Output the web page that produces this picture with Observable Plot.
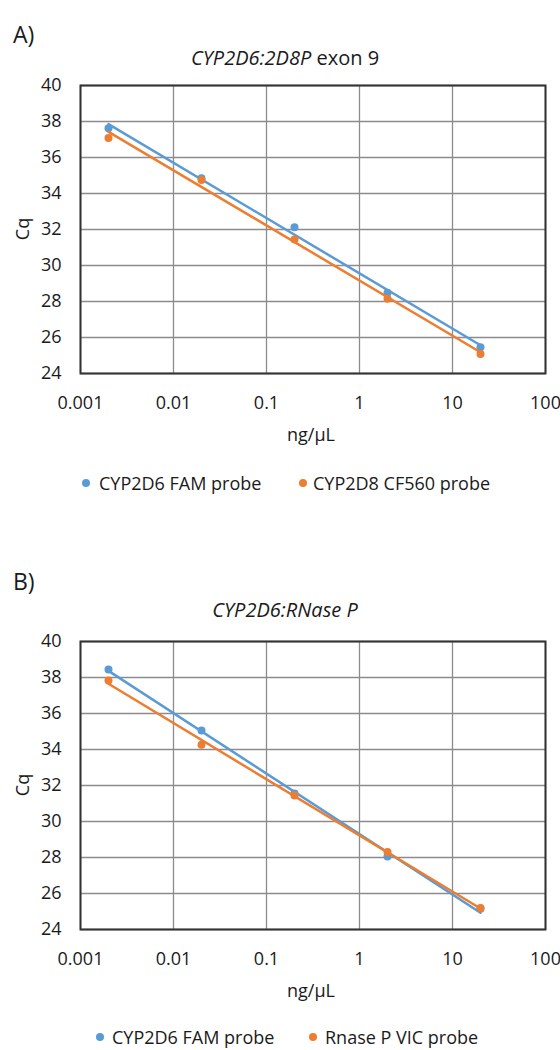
<!DOCTYPE html>
<html>
<head>
<meta charset="utf-8">
<script src="https://cdn.jsdelivr.net/npm/d3@7"></script>
<script src="https://cdn.jsdelivr.net/npm/@observablehq/plot@0.6"></script>
<style>
  body { margin: 0; background: #fff; font-family: "Open Sans", sans-serif; color: #1a1a1a; }
  #page { position: relative; width: 560px; height: 1050px; overflow: hidden; background: #fff; }
  .abs { position: absolute; white-space: nowrap; line-height: 1; }
  .vc { transform: translateY(-50%); }
  .hc { transform: translate(-50%, -50%); }
  .dot { position: absolute; width: 8px; height: 8px; border-radius: 50%; transform: translate(-50%, -50%); }
  svg { position: absolute; left: 0; }
</style>
</head>
<body>
<div id="page"></div>
<script>
// Template DNA concentrations (ng/µL) of the dilution series
const concentrations = [0.002, 0.02, 0.2, 2, 20];

// Axis ticks
const xTicks = [0.001, 0.01, 0.1, 1, 10, 100];
const xTickLabels = ["0.001", "0.01", "0.1", "1", "10", "100"];
const yTicks = [24, 26, 28, 30, 32, 34, 36, 38, 40];

// A) CYP2D6:2D8P exon 9 — Cq values
const cqA_CYP2D6_FAM = [37.63, 34.85, 32.13, 28.48, 25.46];
const cqA_CYP2D8_CF560 = [37.09, 34.75, 31.44, 28.15, 25.08];

// B) CYP2D6:RNase P — Cq values
const cqB_CYP2D6_FAM = [38.44, 35.06, 31.55, 28.05, 25.15];
const cqB_RNaseP_VIC = [37.83, 34.26, 31.45, 28.30, 25.20];

const seriesNamesA = ["CYP2D6 FAM probe", "CYP2D8 CF560 probe"];
const seriesNamesB = ["CYP2D6 FAM probe", "Rnase P VIC probe"];

const BLUE = "#5b9bd5";
const ORANGE = "#ed7d31";
const GRID = "#8c8c8c";
const FRAME = "#333333";
const FONT = '"Open Sans", sans-serif';

const page = document.getElementById("page");

// Least-squares fit of Cq against log10(concentration), evaluated at the data extremes
function logTrend(xs, ys) {
  const lx = xs.map(Math.log10);
  const mx = d3.mean(lx), my = d3.mean(ys);
  let sxy = 0, sxx = 0;
  lx.forEach((v, i) => { sxy += (v - mx) * (ys[i] - my); sxx += (v - mx) ** 2; });
  const slope = sxy / sxx, icpt = my - slope * mx;
  return d3.extent(xs).map(x => ({x, y: icpt + slope * Math.log10(x)}));
}

const rows = ys => concentrations.map((x, i) => ({x, y: ys[i]}));

function addText(html, left, top, cls, style = "") {
  const d = document.createElement("div");
  d.className = "abs " + cls;
  d.style.cssText = `left:${left}px;top:${top}px;${style}`;
  d.innerHTML = html;
  page.appendChild(d);
  return d;
}

function addDot(color, cx, cy) {
  const d = document.createElement("div");
  d.className = "dot";
  d.style.cssText = `left:${cx}px;top:${cy}px;background:${color};`;
  page.appendChild(d);
}

function drawPanel({svgTop, letter, letterY, title, titleY, s1, s2, names, legendY, legend}) {
  const chart = Plot.plot({
    width: 560,
    height: 348,
    marginTop: 15,
    marginBottom: 45,
    marginLeft: 80,
    marginRight: 15,
    style: {fontFamily: FONT, fontSize: "18px", color: "#1a1a1a", background: "transparent"},
    x: {type: "log", domain: [0.001, 100]},
    y: {domain: [24, 40]},
    marks: [
      Plot.gridX(xTicks, {stroke: GRID, strokeOpacity: 1, strokeWidth: 1.3}),
      Plot.gridY(yTicks, {stroke: GRID, strokeOpacity: 1, strokeWidth: 1.3}),
      Plot.frame({stroke: FRAME, strokeWidth: 2}),
      Plot.axisX({ticks: xTicks, tickSize: 0, tickPadding: 23, fontSize: 18,
                  tickFormat: d => xTickLabels[xTicks.indexOf(d)], label: null}),
      Plot.axisY({ticks: yTicks, tickSize: 0, tickPadding: 19, fontSize: 18, label: null}),
      Plot.line(logTrend(concentrations, s1), {x: "x", y: "y", stroke: BLUE, strokeWidth: 2.5}),
      Plot.dot(rows(s1), {x: "x", y: "y", r: 4, fill: BLUE}),
      Plot.line(logTrend(concentrations, s2), {x: "x", y: "y", stroke: ORANGE, strokeWidth: 2.5}),
      Plot.dot(rows(s2), {x: "x", y: "y", r: 4, fill: ORANGE})
    ]
  });
  chart.style.top = svgTop + "px";
  page.appendChild(chart);

  const frameTop = svgTop + 15, frameBottom = svgTop + 15 + 288;

  addText(letter, 13, letterY, "vc", "font-size:23px;");
  addText(title, 285, titleY, "hc", "font-size:20px;");
  addText("Cq", 22, (frameTop + frameBottom) / 2, "", "font-size:18px;transform:translate(-50%,-50%) rotate(-90deg);");
  addText("ng/µL", 311, frameBottom + 61, "hc", "font-size:18px;");

  addDot(BLUE, legend[0], legendY);
  addText(names[0], legend[1], legendY, "vc", "font-size:18px;");
  addDot(ORANGE, legend[2], legendY);
  addText(names[1], legend[3], legendY, "vc", "font-size:18px;");
}

drawPanel({
  svgTop: 70, letter: "A)", letterY: 34,
  title: "<i>CYP2D6:2D8P</i> exon 9", titleY: 58,
  s1: cqA_CYP2D6_FAM, s2: cqA_CYP2D8_CF560, names: seriesNamesA,
  legendY: 483, legend: [86, 99, 303, 313]
});

drawPanel({
  svgTop: 626, letter: "B)", letterY: 581,
  title: "<i>CYP2D6:RNase P</i>", titleY: 610,
  s1: cqB_CYP2D6_FAM, s2: cqB_RNaseP_VIC, names: seriesNamesB,
  legendY: 1037, legend: [100, 112, 313, 325]
});
</script>
</body>
</html>
